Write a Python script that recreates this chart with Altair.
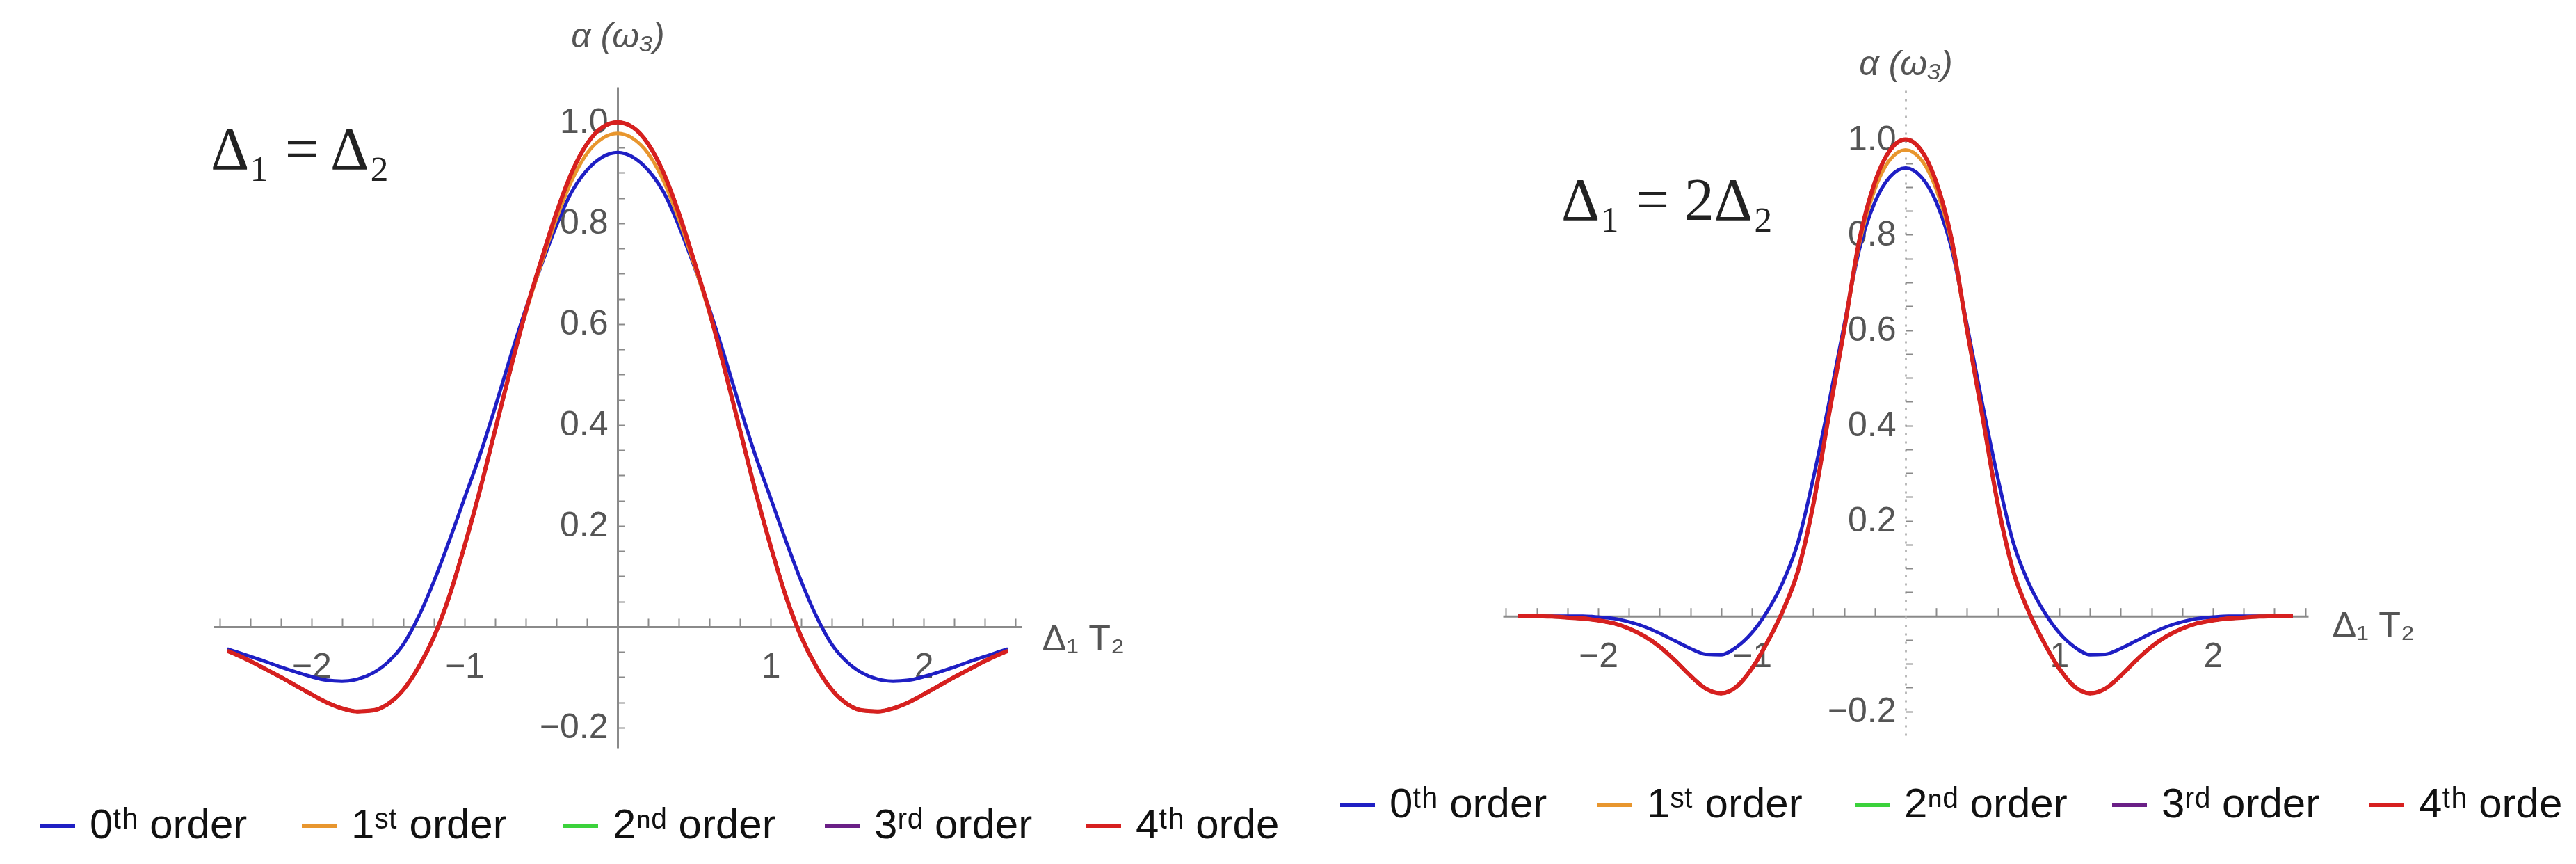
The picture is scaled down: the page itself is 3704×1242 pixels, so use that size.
import altair as alt
import pandas as pd

# ---------------- data ----------------
ORDERS = ["0ᵗʰ order", "1ˢᵗ order", "2ⁿᵈ order", "3ʳᵈ order", "4ᵗʰ order"]
COLORS = ["#1f1fc4", "#e8962e", "#3bd23b", "#6a1f86", "#d7201f"]
# the last legend entry is cut off at the panel edge in the reference
LAST_LABEL_SHOWN = "4ᵗʰ orde"

# Left panel: Delta1 = Delta2
X_LEFT = [-2.55, -2.5, -2.4, -2.3, -2.2, -2.1, -2.0, -1.9, -1.8, -1.7, -1.6, -1.5, -1.4,
          -1.3, -1.2, -1.1, -1.0, -0.9, -0.8, -0.7, -0.6, -0.5, -0.4, -0.3, -0.2, -0.1,
          0.0, 0.1, 0.2, 0.3, 0.4, 0.5, 0.6, 0.7, 0.8, 0.9, 1.0, 1.1, 1.2, 1.3, 1.4,
          1.5, 1.6, 1.7, 1.8, 1.9, 2.0, 2.1, 2.2, 2.3, 2.4, 2.5, 2.55]
ORDER0_LEFT = [-0.044, -0.049, -0.059, -0.069, -0.080, -0.090, -0.099, -0.106, -0.108, -0.104,
               -0.092, -0.070, -0.035, 0.020, 0.090, 0.170, 0.255, 0.340, 0.435, 0.535, 0.630,
               0.715, 0.795, 0.862, 0.905, 0.931, 0.940, 0.931, 0.905, 0.862, 0.795, 0.715,
               0.630, 0.535, 0.435, 0.340, 0.255, 0.170, 0.090, 0.020, -0.035, -0.070, -0.092,
               -0.104, -0.108, -0.106, -0.099, -0.090, -0.080, -0.069, -0.059, -0.049, -0.044]
ORDER1_LEFT = [-0.048, -0.054, -0.068, -0.084, -0.100, -0.117, -0.134, -0.150, -0.162, -0.168,
               -0.166, -0.153, -0.125, -0.080, -0.020, 0.060, 0.160, 0.270, 0.390, 0.510, 0.622,
               0.718, 0.808, 0.884, 0.938, 0.968, 0.978, 0.968, 0.938, 0.884, 0.808, 0.718,
               0.622, 0.510, 0.390, 0.270, 0.160, 0.060, -0.020, -0.080, -0.125, -0.153, -0.166,
               -0.168, -0.162, -0.150, -0.134, -0.117, -0.100, -0.084, -0.068, -0.054, -0.048]
ORDER4_LEFT = [-0.048, -0.054, -0.068, -0.084, -0.100, -0.117, -0.134, -0.150, -0.162, -0.168,
               -0.166, -0.153, -0.125, -0.080, -0.020, 0.060, 0.160, 0.270, 0.390, 0.510, 0.625,
               0.725, 0.820, 0.900, 0.957, 0.990, 1.000, 0.990, 0.957, 0.900, 0.820, 0.725,
               0.625, 0.510, 0.390, 0.270, 0.160, 0.060, -0.020, -0.080, -0.125, -0.153, -0.166,
               -0.168, -0.162, -0.150, -0.134, -0.117, -0.100, -0.084, -0.068, -0.054, -0.048]
ORDER2_LEFT = ORDER4_LEFT
ORDER3_LEFT = ORDER4_LEFT

# Right panel: Delta1 = 2 Delta2
X_RIGHT = [-2.52, -2.4, -2.3, -2.2, -2.1, -2.0, -1.9, -1.8, -1.7, -1.6, -1.5, -1.4, -1.3,
           -1.2, -1.1, -1.0, -0.9, -0.8, -0.7, -0.6, -0.5, -0.4, -0.3, -0.2, -0.1, 0.0,
           0.1, 0.2, 0.3, 0.4, 0.5, 0.6, 0.7, 0.8, 0.9, 1.0, 1.1, 1.2, 1.3, 1.4, 1.5,
           1.6, 1.7, 1.8, 1.9, 2.0, 2.1, 2.2, 2.3, 2.4, 2.52]
ORDER0_RIGHT = [0.0, 0.0, 0.0, 0.0, 0.0, -0.002, -0.005, -0.012, -0.022, -0.036, -0.052, -0.068,
                -0.080, -0.081, -0.065, -0.035, 0.010, 0.070, 0.155, 0.290, 0.445, 0.610, 0.770,
                0.868, 0.922, 0.940, 0.922, 0.868, 0.770, 0.610, 0.445, 0.290, 0.155, 0.070,
                0.010, -0.035, -0.065, -0.081, -0.080, -0.068, -0.052, -0.036, -0.022, -0.012,
                -0.005, -0.002, 0.0, 0.0, 0.0, 0.0, 0.0]
ORDER1_RIGHT = [0.0, 0.0, -0.001, -0.003, -0.005, -0.009, -0.015, -0.026, -0.042, -0.064, -0.093,
                -0.125, -0.152, -0.162, -0.148, -0.110, -0.055, 0.010, 0.095, 0.235, 0.420, 0.598,
                0.782, 0.895, 0.958, 0.978, 0.958, 0.895, 0.782, 0.598, 0.420, 0.235, 0.095,
                0.010, -0.055, -0.110, -0.148, -0.162, -0.152, -0.125, -0.093, -0.064, -0.042,
                -0.026, -0.015, -0.009, -0.005, -0.003, -0.001, 0.0, 0.0]
ORDER4_RIGHT = [0.0, 0.0, -0.001, -0.003, -0.005, -0.009, -0.015, -0.026, -0.042, -0.064, -0.093,
                -0.125, -0.152, -0.162, -0.148, -0.110, -0.055, 0.010, 0.095, 0.235, 0.420, 0.600,
                0.790, 0.910, 0.978, 1.000, 0.978, 0.910, 0.790, 0.600, 0.420, 0.235, 0.095,
                0.010, -0.055, -0.110, -0.148, -0.162, -0.152, -0.125, -0.093, -0.064, -0.042,
                -0.026, -0.015, -0.009, -0.005, -0.003, -0.001, 0.0, 0.0]
ORDER2_RIGHT = ORDER4_RIGHT
ORDER3_RIGHT = ORDER4_RIGHT

X_TICK_LABELS = [-2, -1, 1, 2]
Y_TICK_LABELS = [-0.2, 0.2, 0.4, 0.6, 0.8, 1.0]
X_MINOR = [-2.6, -2.4, -2.2, -2.0, -1.8, -1.6, -1.4, -1.2, -1.0, -0.8, -0.6, -0.4, -0.2,
           0.2, 0.4, 0.6, 0.8, 1.0, 1.2, 1.4, 1.6, 1.8, 2.0, 2.2, 2.4, 2.6]
Y_MINOR = [-0.2, -0.15, -0.1, -0.05, 0.05, 0.1, 0.15, 0.2, 0.25, 0.3, 0.35, 0.4, 0.45, 0.5,
           0.55, 0.6, 0.65, 0.7, 0.75, 0.8, 0.85, 0.9, 0.95, 1.0]

Y_TITLE = "α (ω₃)"
X_TITLE = "Δ₁ T₂"
ANNOT_LEFT = "Δ₁ = Δ₂"
ANNOT_RIGHT = "Δ₁ = 2Δ₂"

AXIS_GREY = "#8a8a8a"
LABEL_GREY = "#555555"


def panel(xs, series, xdom, ydom, width, height, ytitle_pos, xtitle_pos,
          annot, annot_pos, legend_pos, legend_gap, ydomain_dash=None):
    frames = []
    for name, vals in zip(ORDERS, series):
        frames.append(pd.DataFrame({"x": xs, "y": vals, "order": name}))
    df = pd.concat(frames, ignore_index=True)

    xscale = alt.Scale(domain=xdom, nice=False, zero=False)
    yscale = alt.Scale(domain=ydom, nice=False, zero=False)
    px0 = (0 - xdom[0]) / (xdom[1] - xdom[0]) * width
    py0 = (ydom[1] - 0) / (ydom[1] - ydom[0]) * height

    if ydomain_dash is not None:
        ydomain_kw = dict(domainDash=ydomain_dash, domainColor="#bbbbbb")
    else:
        ydomain_kw = dict(domainColor=AXIS_GREY)

    axis_main = alt.Chart(df).mark_point(opacity=0).encode(
        x=alt.X("x:Q", scale=xscale, axis=alt.Axis(
            orient="bottom", values=X_TICK_LABELS, format="d", offset=-(height - py0),
            tickSize=0, labelPadding=33, labelFontSize=50, labelFont="Liberation Sans",
            labelColor=LABEL_GREY, domainColor=AXIS_GREY, domainWidth=3, grid=False,
            labelOverlap=False, labelFlush=False,
            title=X_TITLE, titleX=xtitle_pos[0], titleY=xtitle_pos[1], titleAlign="left",
            titleBaseline="middle", titleAngle=0, titleFontSize=52, titleFont="Liberation Sans",
            titleFontWeight="normal", titleColor=LABEL_GREY)),
        y=alt.Y("y:Q", scale=yscale, axis=alt.Axis(
            orient="left", values=Y_TICK_LABELS, format=".1f", offset=-px0,
            tickSize=0, labelPadding=14, labelFontSize=50, labelFont="Liberation Sans",
            labelColor=LABEL_GREY, domainWidth=3, grid=False, labelOverlap=False,
            labelFlush=False,
            title=Y_TITLE, titleX=0, titleY=ytitle_pos, titleAlign="center",
            titleBaseline="middle", titleAngle=0, titleFontSize=50, titleFont="Liberation Sans",
            titleFontStyle="italic", titleFontWeight="normal", titleColor=LABEL_GREY,
            **ydomain_kw)),
    )

    axis_ticks = alt.Chart(df).mark_point(opacity=0).encode(
        x=alt.X("x:Q", scale=xscale, axis=alt.Axis(
            orient="top", values=X_MINOR, labels=False, domain=False, tickSize=12,
            tickWidth=2, tickColor=AXIS_GREY, offset=-py0, title=None, grid=False)),
        y=alt.Y("y:Q", scale=yscale, axis=alt.Axis(
            orient="right", values=Y_MINOR, labels=False, domain=False, tickSize=10,
            tickWidth=2, tickColor=AXIS_GREY, offset=-(width - px0), title=None, grid=False)),
    )

    legend = alt.Legend(
        orient="none", legendX=legend_pos[0], legendY=legend_pos[1], direction="horizontal",
        columns=5, title=None, symbolType="stroke", symbolSize=2500, symbolStrokeWidth=6,
        labelFontSize=60, labelFont="Liberation Sans", labelColor="#111111", labelOffset=16,
        columnPadding=legend_gap, gridAlign="all", labelLimit=0, padding=0,
        labelExpr=f"datum.label == '{ORDERS[-1]}' ? '{LAST_LABEL_SHOWN}' : datum.label")

    color = alt.Color("order:N", scale=alt.Scale(domain=ORDERS, range=COLORS), legend=legend)

    lines = []
    for i, name in enumerate(ORDERS):
        lines.append(
            alt.Chart(df[df["order"] == name]).mark_line(
                strokeWidth=6 if i == 4 else 5, interpolate="monotone"
            ).encode(
                x=alt.X("x:Q", scale=xscale, axis=None),
                y=alt.Y("y:Q", scale=yscale, axis=None),
                color=color,
            )
        )

    text = alt.Chart(pd.DataFrame({"t": [annot]})).mark_text(
        font="Liberation Serif", fontSize=86, align="left", baseline="alphabetic", color="#222222"
    ).encode(text="t:N", x=alt.value(annot_pos[0]), y=alt.value(annot_pos[1]))

    return alt.layer(axis_main, *lines, axis_ticks, text).resolve_axis(
        x="independent", y="independent"
    ).properties(width=width, height=height)


left = panel(
    X_LEFT, [ORDER0_LEFT, ORDER1_LEFT, ORDER2_LEFT, ORDER3_LEFT, ORDER4_LEFT],
    xdom=[-2.64, 2.64], ydom=[-0.24, 1.07], width=1162, height=950,
    ytitle_pos=-73, xtitle_pos=(1191, 18),
    annot=ANNOT_LEFT, annot_pos=(-4, 118), legend_pos=(-254, 1032), legend_gap=58,
)
right = panel(
    X_RIGHT, [ORDER0_RIGHT, ORDER1_RIGHT, ORDER2_RIGHT, ORDER3_RIGHT, ORDER4_RIGHT],
    xdom=[-2.62, 2.62], ydom=[-0.25, 1.11], width=1158, height=932,
    ytitle_pos=-33, xtitle_pos=(1192, 14),
    annot=ANNOT_RIGHT, annot_pos=(84, 191), legend_pos=(-239, 1002), legend_gap=52,
    ydomain_dash=[3, 9],
)

chart = alt.hconcat(left, right, spacing=692, bounds="flush").resolve_scale(
    color="independent"
).properties(
    padding={"left": 45, "top": 19, "right": 0, "bottom": 0}
).configure_view(stroke=None, strokeWidth=0)

chart.save("out.html", embed_options={"renderer": "svg", "actions": False})
